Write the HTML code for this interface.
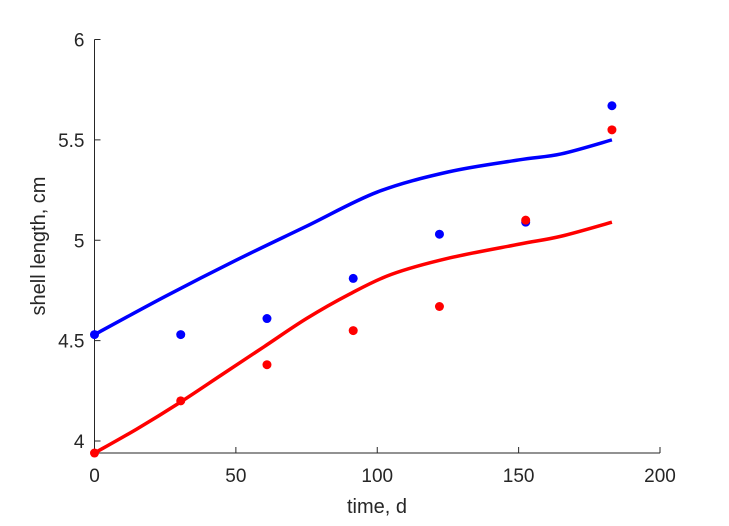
<!DOCTYPE html>
<html><head><meta charset="utf-8"><style>
body{margin:0;background:#fff}
svg text{font-family:"Liberation Sans",sans-serif;fill:#262626}
</style></head><body>
<svg id="chart" width="729" height="521" viewBox="0 0 729 521" xmlns="http://www.w3.org/2000/svg">
<g id="axes"></g>
<g id="marks"></g>
<text x="377" y="513" font-size="20" text-anchor="middle">time, d</text>
<text transform="translate(45,246) rotate(-90)" font-size="20" text-anchor="middle">shell length, cm</text>
</svg>
<script>
const xTicks=[0,50,100,150,200];
const yTicks=[4,4.5,5,5.5,6];
const xTickLabels=["0","50","100","150","200"];
const yTickLabels=["4","4.5","5","5.5","6"];
const obsTimes=[0,30.5,61,91.5,122,152.5,183];
const blueObs=[4.53,4.53,4.61,4.81,5.03,5.09,5.67];
const redObs=[3.94,4.20,4.38,4.55,4.67,5.10,5.55];
const blueFitTimes=[0,25,50,75,100,125,150,165,183];
const blueFit=[4.53,4.72,4.90,5.07,5.24,5.34,5.40,5.43,5.50];
const redFitTimes=[0,15,30,45,60,75,90,105,125,150,165,183];
const redFit=[3.94,4.06,4.19,4.33,4.47,4.61,4.73,4.83,4.91,4.98,5.02,5.09];

const X0=94.5,X1=660,Y0=441,Y1=39.5,YBOT=453;
const xs=v=>X0+(v-0)/(200-0)*(X1-X0);
const ys=v=>Y0+(v-4)/(6-4)*(Y1-Y0);
const NS="http://www.w3.org/2000/svg";
const axes=document.getElementById('axes'),marks=document.getElementById('marks');
function mk(tag,at,parent){const e=document.createElementNS(NS,tag);for(const k in at)e.setAttribute(k,at[k]);parent.appendChild(e);return e;}
let l=mk('line',{x1:X0,y1:YBOT,x2:X1,y2:YBOT,stroke:'#262626','stroke-width':1},axes);


l=mk('line',{x1:X0,y1:Y1,x2:X0,y2:YBOT,stroke:'#262626','stroke-width':1},axes);


xTicks.forEach((t,i)=>{const x=xs(t);
 const tk=mk('line',{x1:x,y1:YBOT,x2:x,y2:YBOT-6,stroke:'#262626'},axes);
 
 
 const tx=mk('text',{x:x,y:YBOT+29,'font-size':19,'text-anchor':'middle'},axes);tx.textContent=xTickLabels[i];
 
 
});
yTicks.forEach((t,i)=>{const y=ys(t);
 const tk=mk('line',{x1:X0,y1:y,x2:X0+6,y2:y,stroke:'#262626'},axes);
 
 
 const tx=mk('text',{x:X0-10,y:y+7,'font-size':19,'text-anchor':'end'},axes);tx.textContent=yTickLabels[i];
 
 
});
function smooth(px,py){let d=`M${px[0]},${py[0]}`;const n=px.length;
 for(let i=0;i<n-1;i++){const i0=Math.max(0,i-1),i3=Math.min(n-1,i+2);
  const c1x=px[i]+(px[i+1]-px[i0])/6,c1y=py[i]+(py[i+1]-py[i0])/6;
  const c2x=px[i+1]-(px[i3]-px[i])/6,c2y=py[i+1]-(py[i3]-py[i])/6;
  d+=` C${c1x},${c1y} ${c2x},${c2y} ${px[i+1]},${py[i+1]}`;}
 return d;}
function series(ft,fit,obs,color,name){
 const p=mk('path',{d:smooth(ft.map(xs),fit.map(ys)),fill:'none',stroke:color,'stroke-width':3.5},marks);
 
 
 obs.forEach((v,i)=>{const c=mk('circle',{cx:xs(obsTimes[i]),cy:ys(v),r:4.5,fill:color},marks);
  
  });
}
series(blueFitTimes,blueFit,blueObs,'#0000ff','blue');
series(redFitTimes,redFit,redObs,'#ff0000','red');
</script>
</body></html>
